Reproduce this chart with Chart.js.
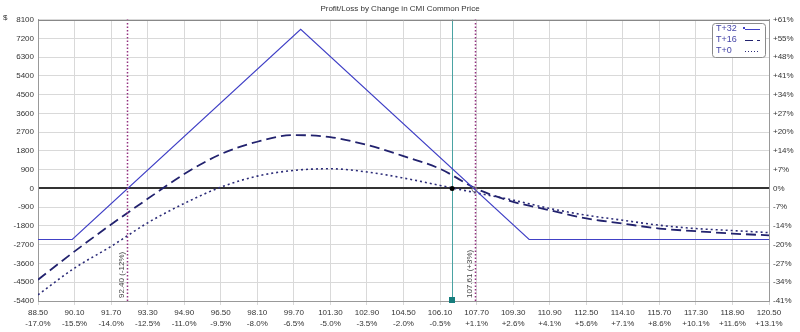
<!DOCTYPE html>
<html>

<head>
  <title>CMI Profit/Loss</title>
  <script src="https://cdn.jsdelivr.net/npm/chart.js"></script>
  <style>
    html, body { margin: 0; padding: 0; background: #fff; }
    #wrap { width: 800px; height: 332px; }
  </style>
</head>

<body>
  <div id="wrap"><canvas id="myChart"></canvas></div>
  <script>

    // price grid along the bottom axis and the % change under each price
    let priceTicks = [88.50, 90.10, 91.70, 93.30, 94.90, 96.50, 98.10, 99.70, 101.30, 102.90, 104.50,
      106.10, 107.70, 109.30, 110.90, 112.50, 114.10, 115.70, 117.30, 118.90, 120.50];
    let pctTicks = ['-17.0%', '-15.5%', '-14.0%', '-12.5%', '-11.0%', '-9.5%', '-8.0%', '-6.5%', '-5.0%', '-3.5%', '-2.0%',
      '-0.5%', '+1.1%', '+2.6%', '+4.1%', '+5.6%', '+7.1%', '+8.6%', '+10.1%', '+11.6%', '+13.1%'];

    // left axis ($) and right axis (% return), listed bottom to top
    let dollarTicks = [-5400, -4500, -3600, -2700, -1800, -900, 0, 900, 1800, 2700, 3600, 4500, 5400, 6300, 7200, 8100];
    let returnTicks = ['-41%', '-34%', '-27%', '-20%', '-14%', '-7%', '0%', '+7%', '+14%', '+20%', '+27%', '+34%', '+41%', '+48%', '+55%', '+61%'];

    // T+32 (expiration) is piecewise linear
    let t32Prices = [88.50, 90.00, 100.00, 110.00, 120.50];
    let t32Values = [-2450, -2450, 7630, -2450, -2450];

    // T+16 and T+0 sampled at each price tick
    let t16Values = [-4380, -3020, -1730, -500, 690, 1645, 2240, 2560, 2460, 2085, 1550,
      940, -20, -640, -1045, -1440, -1685, -1925, -2050, -2165, -2250];
    let t0Values = [-5100, -3820, -2780, -1650, -720, 60, 590, 865, 945, 790, 500,
      145, -215, -560, -960, -1285, -1525, -1765, -1925, -2020, -2120];

    // breakevens and current price
    let breakevens = [92.40, 107.61];
    let breakevenLabels = ['92.40 (-12%)', '107.61 (+3%)'];
    let currentPrice = 106.63;

    let seriesNames = ['T+32', 'T+16', 'T+0'];
    let legendDashes = [[], [8, 4], [1, 2]];

    const FONT = 'Liberation Sans, Arial, sans-serif';

    function toPoints(xs, ys) {
      return xs.map((x, i) => ({ x: x, y: ys[i] }));
    }

    let overlay = {
      id: 'overlay',
      beforeDatasetsDraw(chart) {
        let ctx = chart.ctx;
        let a = chart.chartArea;
        let xs = chart.scales.x;
        // current price line
        let cx = Math.round(xs.getPixelForValue(currentPrice)) + 0.5;
        ctx.save();
        ctx.strokeStyle = '#4aa3a3';
        ctx.lineWidth = 1;
        ctx.beginPath();
        ctx.moveTo(cx, a.top);
        ctx.lineTo(cx, a.bottom);
        ctx.stroke();
        ctx.restore();
      },
      afterDatasetsDraw(chart) {
        let ctx = chart.ctx;
        let a = chart.chartArea;
        let xs = chart.scales.x;
        let ys = chart.scales.y;
        ctx.save();

        // breakeven lines with rotated labels
        breakevens.forEach((b, i) => {
          let bx = Math.round(xs.getPixelForValue(b)) + 0.5;
          ctx.strokeStyle = '#93307f';
          ctx.lineWidth = 1.5;
          ctx.setLineDash([1.5, 2]);
          ctx.beginPath();
          ctx.moveTo(bx, a.top);
          ctx.lineTo(bx, a.bottom);
          ctx.stroke();
          ctx.setLineDash([]);

          ctx.save();
          ctx.translate(bx - 6, a.bottom - 3);
          ctx.rotate(-Math.PI / 2);
          ctx.fillStyle = '#444';
          ctx.font = '8px ' + FONT;
          ctx.textAlign = 'left';
          ctx.textBaseline = 'middle';
          ctx.fillText(breakevenLabels[i], 0, 0);
          ctx.restore();
        });

        // current price markers
        let cx = xs.getPixelForValue(currentPrice);
        ctx.fillStyle = '#000';
        ctx.beginPath();
        ctx.arc(cx, ys.getPixelForValue(0), 2.5, 0, Math.PI * 2);
        ctx.fill();
        ctx.fillStyle = '#167d7d';
        ctx.fillRect(Math.round(cx) - 3, a.bottom - 4, 6, 6);

        let bx = xs.getPixelForValue(breakevens[1]);
        ctx.strokeStyle = '#777';
        ctx.lineWidth = 1;
        ctx.beginPath();
        ctx.arc(bx, ys.getPixelForValue(0) + 1, 2.5, 0, Math.PI * 2);
        ctx.stroke();

        // frame top edge
        ctx.strokeStyle = '#888';
        ctx.lineWidth = 1;
        ctx.beginPath();
        ctx.moveTo(a.left, Math.round(a.top) + 0.5);
        ctx.lineTo(a.right, Math.round(a.top) + 0.5);
        ctx.stroke();

        // "$" unit on the left axis
        ctx.fillStyle = '#333';
        ctx.font = '8px ' + FONT;
        ctx.textAlign = 'left';
        ctx.textBaseline = 'middle';
        ctx.fillText('$', 3, 18);

        // legend box
        let lx = 712, ly = 23, lw = 53, lh = 34;
        ctx.fillStyle = '#fff';
        ctx.strokeStyle = '#8a8a8a';
        ctx.beginPath();
        ctx.roundRect(lx + 0.5, ly + 0.5, lw, lh, 3);
        ctx.fill();
        ctx.stroke();

        chart.data.datasets.forEach((ds, i) => {
          let ty = ly + 6 + i * 11;
          ctx.fillStyle = '#4646a8';
          ctx.font = '9px ' + FONT;
          ctx.textAlign = 'left';
          ctx.textBaseline = 'middle';
          ctx.fillText(seriesNames[i], lx + 4, ty);
          ctx.strokeStyle = ds.borderColor;
          ctx.lineWidth = 1;
          ctx.setLineDash(legendDashes[i]);
          ctx.beginPath();
          ctx.moveTo(lx + 33, ty + 0.5);
          ctx.lineTo(lx + 48, ty + 0.5);
          ctx.stroke();
          ctx.setLineDash([]);
          if (i === 0) {
            ctx.fillStyle = ds.borderColor;
            ctx.fillRect(lx + 31, ty - 2, 2, 2);
          }
        });

        ctx.restore();
      }
    };

    let ctx = document.getElementById('myChart').getContext('2d');
    let myChart = new Chart(ctx, {
      type: 'line',
      data: {
        datasets: [{
          label: seriesNames[0],
          data: toPoints(t32Prices, t32Values),
          borderColor: '#4141c6',
          borderWidth: 1.2,
          tension: 0,
          pointRadius: 0
        }, {
          label: seriesNames[1],
          data: toPoints(priceTicks, t16Values),
          borderColor: '#22226e',
          borderWidth: 1.8,
          borderDash: [10, 5],
          cubicInterpolationMode: 'monotone',
          pointRadius: 0
        }, {
          label: seriesNames[2],
          data: toPoints(priceTicks, t0Values),
          borderColor: '#2c2c78',
          borderWidth: 1.6,
          borderDash: [2, 3],
          cubicInterpolationMode: 'monotone',
          pointRadius: 0
        }]
      },
      options: {
        responsive: true,
        maintainAspectRatio: false,
        animation: false,
        layout: { padding: 0 },
        plugins: {
          legend: { display: false },
          tooltip: { enabled: false },
          title: {
            display: true,
            text: 'Profit/Loss by Change in CMI Common Price',
            color: '#333',
            font: { family: FONT, size: 8, weight: 'normal' },
            padding: { top: 4, bottom: 6 }
          }
        },
        scales: {
          x: {
            type: 'linear',
            min: priceTicks[0],
            max: priceTicks[priceTicks.length - 1],
            afterBuildTicks: (scale) => { scale.ticks = priceTicks.map(v => ({ value: v })); },
            afterFit: (scale) => { scale.height = 31; },
            grid: { color: '#d9d9d9', tickLength: 4 },
            border: { color: '#999' },
            ticks: {
              autoSkip: false,
              maxRotation: 0,
              padding: 2,
              color: '#333',
              font: { family: FONT, size: 8, lineHeight: 1.4 },
              callback: (v, i) => [priceTicks[i].toFixed(2), pctTicks[i]]
            }
          },
          y: {
            position: 'left',
            min: dollarTicks[0],
            max: dollarTicks[dollarTicks.length - 1],
            afterBuildTicks: (scale) => { scale.ticks = dollarTicks.map(v => ({ value: v })); },
            afterFit: (scale) => { scale.width = 38; },
            grid: {
              tickLength: 0,
              color: (c) => c.tick && c.tick.value === 0 ? '#333' : '#d9d9d9',
              lineWidth: (c) => c.tick && c.tick.value === 0 ? 2 : 1
            },
            border: { color: '#999' },
            ticks: {
              padding: 4,
              color: '#333',
              font: { family: FONT, size: 8 },
              callback: (v) => String(v)
            }
          },
          y1: {
            position: 'right',
            min: dollarTicks[0],
            max: dollarTicks[dollarTicks.length - 1],
            afterBuildTicks: (scale) => { scale.ticks = dollarTicks.map(v => ({ value: v })); },
            afterFit: (scale) => { scale.width = 31; },
            grid: { drawOnChartArea: false, tickLength: 0 },
            border: { color: '#999' },
            ticks: {
              padding: 4,
              color: '#333',
              font: { family: FONT, size: 8 },
              callback: (v, i) => returnTicks[i]
            }
          }
        }
      },
      plugins: [overlay]
    });

  </script>
</body>

</html>
